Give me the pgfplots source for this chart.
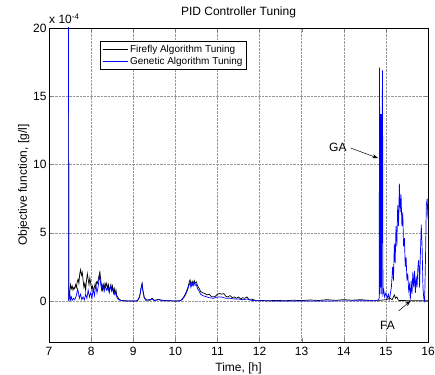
\documentclass[border=0pt]{standalone}
\usepackage{pgfplots}
\pgfplotsset{compat=1.18}
\usepackage{fontspec}
\setmainfont{Liberation Sans}
\usetikzlibrary{arrows.meta}
\begin{document}
\begin{tikzpicture}
\begin{axis}[
  scale only axis, width=379pt, height=314pt,
  xmin=7, xmax=16, ymin=-3, ymax=20,
  xtick={7,8,...,16}, ytick={0,5,10,15,20},
  tick align=inside, tick pos=both,
  major tick length=4pt,
  grid=major,
  major grid style={densely dotted, gray!80, line width=0.5pt},
  axis line style={line width=0.8pt},
  /pgf/number format/assume math mode=true,
  ticklabel style={font=\fontsize{12}{14}\selectfont},
  xticklabel style={yshift=-2pt},
  yticklabel style={xshift=1pt},
  label style={font=\fontsize{12}{14}\selectfont},
  title style={font=\fontsize{12}{14}\selectfont, yshift=0pt},
  title={PID Controller Tuning},
  xlabel={Time, [h]},
  ylabel={Objective function, [g/l]},
  xlabel style={yshift=0pt},
  ylabel style={yshift=-3pt},
  legend style={at={(0.135,0.959)}, anchor=north west,
    font=\fontsize{10}{11}\selectfont, inner sep=2pt, row sep=-1pt, cells={anchor=west}},
  legend image code/.code={\draw[mark repeat=2,mark phase=2,#1] plot coordinates {(0pt,0pt) (12.5pt,0pt) (25pt,0pt)};},
  every axis plot/.append style={line width=0.7pt},
]
\addplot[black] table {
7.46 30
7.47 0
7.49 0.6
7.51 1.2
7.53 0.9
7.55 1.1
7.57 0.8
7.59 1.0
7.61 0.9
7.63 1.2
7.65 1.0
7.67 1.4
7.69 1.6
7.71 1.3
7.73 2.0
7.75 2.3
7.77 1.9
7.79 2.1
7.81 1.5
7.83 1.0
7.85 1.3
7.87 0.8
7.89 1.5
7.91 2.0
7.93 1.6
7.95 1.2
7.97 1.7
7.99 1.3
8.01 0.9
8.03 1.1
8.05 0.7
8.07 0.9
8.09 1.2
8.11 1.0
8.13 1.4
8.15 1.3
8.17 1.6
8.19 1.9
8.21 2.1
8.23 1.5
8.25 1.1
8.27 0.8
8.29 1.2
8.31 0.9
8.33 1.3
8.35 1.1
8.37 1.3
8.39 0.9
8.41 1.2
8.43 0.7
8.45 1.0
8.47 1.2
8.49 0.8
8.51 1.1
8.53 0.6
8.55 0.9
8.57 0.5
8.59 0.8
8.61 0.4
8.63 0.3
8.65 0.2
8.68 0.1
8.72 0.05
8.80 0.02
9.00 0.0
9.10 0.02
9.15 0.3
9.19 1.0
9.21 1.3
9.23 0.8
9.26 0.3
9.30 0.1
9.40 0.05
9.45 0.2
9.50 0.05
9.60 0.12
9.70 0.05
9.80 0.03
10.00 0.0
10.10 0.02
10.15 0.1
10.20 0.3
10.25 0.6
10.30 1.0
10.33 1.4
10.35 1.55
10.37 1.2
10.40 1.45
10.42 1.25
10.45 1.5
10.47 1.3
10.50 1.4
10.53 1.1
10.57 0.9
10.60 0.7
10.65 0.6
10.70 0.55
10.75 0.45
10.80 0.5
10.85 0.35
10.90 0.3
10.95 0.35
11.00 0.5
11.05 0.55
11.10 0.5
11.15 0.55
11.20 0.35
11.25 0.3
11.30 0.4
11.35 0.25
11.40 0.3
11.45 0.2
11.50 0.3
11.55 0.15
11.60 0.25
11.65 0.2
11.70 0.3
11.75 0.1
11.80 0.15
11.90 0.05
12.00 0.05
12.20 0.02
12.40 0.05
12.60 0.02
12.80 0.06
13.00 0.03
13.20 0.08
13.40 0.04
13.60 0.1
13.80 0.05
14.00 0.1
14.20 0.06
14.40 0.1
14.60 0.05
14.85 0.05
15.00 0.1
15.10 0.2
15.15 0.1
15.20 0.45
15.23 0.2
15.26 0.3
15.30 0.05
15.60 0.02
16.00 0.02
};
\addlegendentry{Firefly Algorithm Tuning}
\addplot[blue] table {
7.46 30
7.47 0
7.49 0.7
7.51 0.1
7.53 0.3
7.55 0.05
7.58 0.2
7.61 0.1
7.65 0.4
7.68 0.9
7.70 0.6
7.72 0.2
7.75 0.5
7.78 0.1
7.81 0.3
7.84 0.1
7.87 0.5
7.90 0.2
7.93 0.8
7.96 0.3
7.99 0.6
8.02 0.2
8.05 0.9
8.08 0.4
8.11 1.2
8.14 0.6
8.17 1.1
8.20 2.0
8.22 1.4
8.25 0.8
8.28 1.2
8.31 0.7
8.34 1.1
8.37 0.8
8.40 1.0
8.43 0.6
8.46 1.1
8.49 0.7
8.52 0.9
8.55 0.5
8.58 0.7
8.61 0.3
8.65 0.1
8.70 0.05
8.80 0.0
9.10 0.0
9.15 0.3
9.19 1.0
9.21 1.25
9.23 0.7
9.26 0.25
9.30 0.05
9.45 0.15
9.50 0.03
9.60 0.1
9.70 0.03
10.10 0.0
10.15 0.08
10.20 0.25
10.25 0.5
10.30 0.9
10.33 1.2
10.35 1.35
10.37 1.0
10.40 1.3
10.42 1.1
10.45 1.35
10.47 1.15
10.50 1.2
10.53 0.9
10.57 0.7
10.60 0.5
10.65 0.4
10.70 0.35
10.75 0.3
10.80 0.25
10.90 0.2
11.00 0.3
11.10 0.3
11.20 0.2
11.30 0.2
11.40 0.15
11.50 0.15
11.60 0.1
11.70 0.15
11.80 0.05
12.00 0.02
12.50 0.0
14.80 0.02
14.84 0.2
14.85 17.1
14.86 0.5
14.87 13.7
14.88 1.0
14.89 13.7
14.90 0.5
14.91 13.5
14.92 16.9
14.93 0.5
14.95 0.8
14.97 0.3
15.00 0.6
15.03 0.2
15.06 0.5
15.08 0.1
15.10 0.4
15.13 1.0
15.16 2.5
15.18 1.5
15.20 4.2
15.22 2.8
15.24 5.5
15.26 4.0
15.28 7.0
15.30 5.5
15.32 8.6
15.34 6.5
15.36 7.8
15.38 5.5
15.40 6.5
15.42 4.0
15.44 4.6
15.46 2.5
15.48 3.2
15.50 1.5
15.52 2.0
15.54 0.8
15.56 1.2
15.58 0.1
15.60 1.5
15.62 0.5
15.64 2.1
15.66 1.0
15.68 2.2
15.70 0.6
15.72 1.8
15.74 1.0
15.76 2.5
15.78 3.0
15.80 1.0
15.82 3.5
15.84 5.6
15.86 4.0
15.88 1.0
15.90 0.2
15.92 0.0
15.94 3.0
15.96 7.0
15.98 7.5
16.00 6.0
};
\addlegendentry{Genetic Algorithm Tuning}
\node[font=\fontsize{12}{14}\selectfont] at (axis cs:13.86,11.27) {GA};
\draw[-{Stealth[length=6pt,width=4pt]}, line width=0.5pt] (axis cs:14.17,11.2) -- (axis cs:14.82,10.46);
\node[font=\fontsize{12}{14}\selectfont] at (axis cs:15.04,-1.8) {FA};
\draw[-{Stealth[length=6pt,width=4pt]}, line width=0.5pt] (axis cs:15.30,-0.73) -- (axis cs:15.59,0.02);
\coordinate (tl) at (rel axis cs:0,1);
\coordinate (bl) at (rel axis cs:0,0);
\coordinate (tr) at (rel axis cs:1,1);
\end{axis}
\node[anchor=south west, font=\fontsize{12}{14}\selectfont, inner sep=0pt] at ([yshift=4pt]tl) {x 10\textsuperscript{-4}};
\pgfresetboundingbox
\path ([xshift=-49pt,yshift=-32pt]bl) rectangle ([xshift=7pt,yshift=28pt]tr);
\end{tikzpicture}
\end{document}
